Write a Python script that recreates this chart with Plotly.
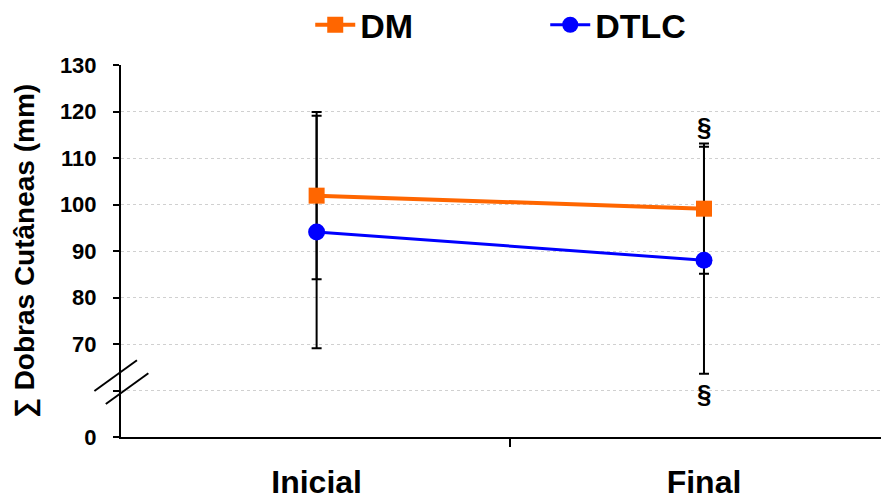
import plotly.graph_objects as go

# Data
categories = ["Inicial", "Final"]
cat_pos = [0, 1]
dm_values = [101.9, 99.1]
dm_errors = [18.0, 14.0]
dtlc_values = [94.1, 88.0]
dtlc_errors = [25.0, 24.4]
sig_top = [None, 116.7]      # § above DM upper error (Final)
sig_bottom = [None, 59.3]    # § below DTLC lower error (Final)
ytick_vals = [50, 60, 70, 80, 90, 100, 110, 120, 130]
ytick_text = ["0", "", "70", "80", "90", "100", "110", "120", "130"]

FONT = "Liberation Sans, Arial, sans-serif"
ORANGE = "#FF6600"
BLUE = "#0000FF"

fig = go.Figure()

# Error bars first (below markers)
for vals, errs in [(dtlc_values, dtlc_errors), (dm_values, dm_errors)]:
    fig.add_trace(go.Scatter(
        x=cat_pos, y=vals, mode="markers",
        marker=dict(size=1, opacity=0),
        error_y=dict(type="data", array=errs, visible=True,
                     color="black", thickness=2, width=5),
        showlegend=False, hoverinfo="skip"))

fig.add_trace(go.Scatter(
    x=cat_pos, y=dtlc_values, mode="lines+markers", name="DTLC",
    line=dict(color=BLUE, width=3),
    marker=dict(symbol="circle", size=17, color=BLUE)))
fig.add_trace(go.Scatter(
    x=cat_pos, y=dm_values, mode="lines+markers", name="DM",
    line=dict(color=ORANGE, width=4),
    marker=dict(symbol="square", size=16, color=ORANGE)))

# § significance markers
for arr in (sig_top, sig_bottom):
    for xp, yv in zip(cat_pos, arr):
        if yv is not None:
            fig.add_annotation(x=xp, y=yv, text="<b>§</b>", showarrow=False,
                               font=dict(family=FONT, size=26, color="black"))

# axis break marks
fig.add_shape(type="line", xref="paper", yref="y",
              x0=-0.035, x1=0.021, y0=59.9, y1=66.5,
              line=dict(color="black", width=2))
fig.add_shape(type="line", xref="paper", yref="y",
              x0=-0.020, x1=0.036, y0=57.1, y1=63.7,
              line=dict(color="black", width=2))

fig.update_layout(
    width=883, height=498,
    margin=dict(l=121, r=2, t=65, b=61, autoexpand=False),
    paper_bgcolor="white", plot_bgcolor="white",
    font=dict(family=FONT, color="black"),
    legend=dict(orientation="h", x=0.249, xanchor="left", y=1.185,
                yanchor="top", yref="paper",
                traceorder="reversed",
                font=dict(family=FONT, size=34, color="black", weight="bold"),
                entrywidth=180, itemwidth=40),
    xaxis=dict(range=[-0.505, 1.457], tickvals=cat_pos, ticktext=categories,
               ticks="", showgrid=False, zeroline=False, automargin=False,
               showline=True, linecolor="black", linewidth=2,
               tickfont=dict(family=FONT, size=32, color="black", weight="bold"),
               ticklabelstandoff=16,
               minor=dict(tickvals=[0.5], ticks="outside", ticklen=8,
                          tickcolor="black", tickwidth=2, showgrid=False)),
    yaxis=dict(range=[50, 130], tickvals=ytick_vals, ticktext=ytick_text,
               ticks="outside", ticklen=6, tickcolor="black", tickwidth=2,
               showline=True, linecolor="black", linewidth=2,
               showgrid=True, gridcolor="#d0d0d0", gridwidth=1, griddash="dot",
               zeroline=False, automargin=False,
               tickfont=dict(family=FONT, size=22, color="black", weight="bold"),
               ticklabelstandoff=12,
               title=dict(text="∑ Dobras Cutâneas (mm)", standoff=17,
                          font=dict(family=FONT, size=28, color="black", weight="bold"))),
)

post = ("document.body.style.margin='0';document.body.style.padding='0';"
        "document.body.style.overflow='hidden';"
        "Plotly.relayout('{plot_id}', {width: 883, height: 498});")
fig.write_html("out.html", post_script=post, config={"displayModeBar": False})
